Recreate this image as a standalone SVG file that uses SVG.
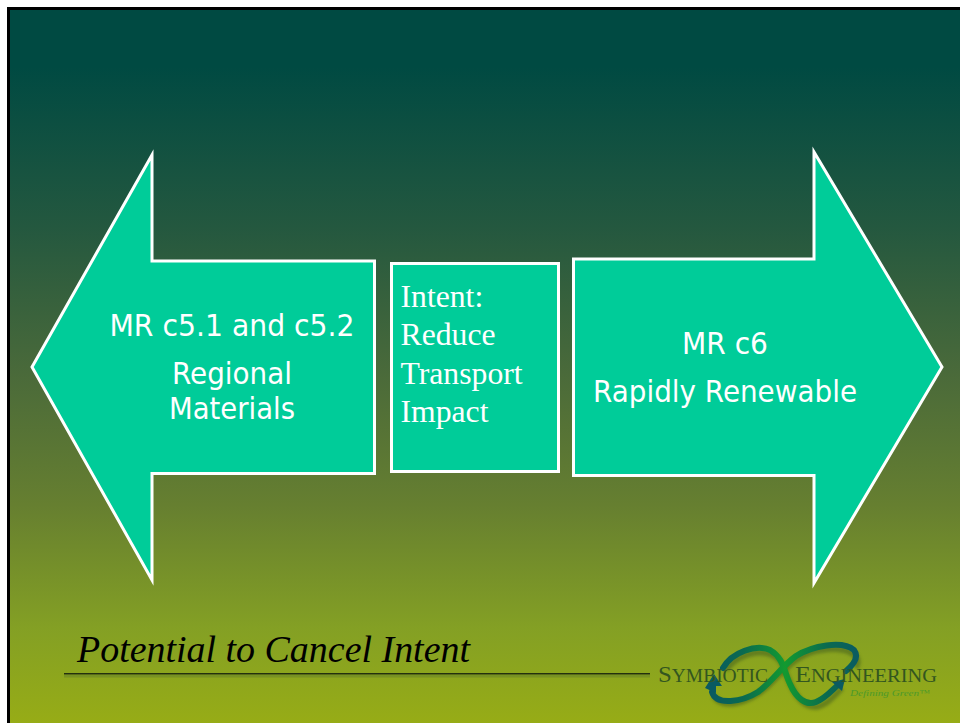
<svg xmlns="http://www.w3.org/2000/svg" width="960" height="723" viewBox="0 0 960 723">
<defs>
<linearGradient id="bg" x1="0" y1="0" x2="0" y2="1">
<stop offset="0" stop-color="#004a42"/>
<stop offset="0.08" stop-color="#004a42"/>
<stop offset="0.3" stop-color="#24583f"/>
<stop offset="0.5" stop-color="#4a6a3a"/>
<stop offset="0.68" stop-color="#667f30"/>
<stop offset="0.85" stop-color="#84a024"/>
<stop offset="1" stop-color="#9aae14"/>
</linearGradient>
<linearGradient id="sw" gradientUnits="userSpaceOnUse" x1="710" y1="0" x2="860" y2="0">
<stop offset="0" stop-color="#0a5a62"/>
<stop offset="0.22" stop-color="#0a6a50"/>
<stop offset="0.5" stop-color="#129a30"/>
<stop offset="0.78" stop-color="#0a6a50"/>
<stop offset="1" stop-color="#0a5a62"/>
</linearGradient>
<filter id="soft" x="-10%" y="-20%" width="120%" height="140%"><feGaussianBlur stdDeviation="1.8"/></filter>
</defs>
<style>
.shape{fill:#00cc99;stroke:#fff;stroke-width:3}
.sans{font-family:"DejaVu Sans","Liberation Sans",sans-serif;font-size:29.500px;fill:#fff;text-anchor:middle}
.serif{font-family:"Liberation Serif",serif;font-size:31.700px;fill:#fff}
.logo{font-family:"Liberation Serif",serif;fill:#33561f;font-size:23px}
.band{fill:none;stroke:url(#sw);stroke-width:6;stroke-linecap:round}
.shade{fill:none;stroke:#44601a;stroke-width:6;opacity:.55;filter:url(#soft)}
</style>
<rect width="960" height="723" fill="#fff"/>
<rect x="8.500" y="8.500" width="960" height="730" fill="url(#bg)" stroke="#000" stroke-width="3"/>
<g id="left-arrow">
<polygon class="shape" points="32,367 152,155 152,261 374.500,261 374.500,473.500 152,473.500 152,580"/>
<text class="sans" x="232" y="336" textLength="245" lengthAdjust="spacingAndGlyphs">MR c5.1 and c5.2</text>
<text class="sans" x="232" y="384" textLength="120" lengthAdjust="spacingAndGlyphs">Regional</text>
<text class="sans" x="232" y="419" textLength="126" lengthAdjust="spacingAndGlyphs">Materials</text>
</g>
<g id="center-box">
<rect class="shape" x="391.500" y="263.500" width="167" height="208"/>
<text class="serif" x="400.500" y="307">Intent:</text>
<text class="serif" x="400.500" y="345">Reduce</text>
<text class="serif" x="400.500" y="384">Transport</text>
<text class="serif" x="400.500" y="422">Impact</text>
</g>
<g id="right-arrow">
<polygon class="shape" points="942,367 814,152 814,259 573.500,259 573.500,475.500 814,475.500 814,583"/>
<text class="sans" x="725" y="354" textLength="86" lengthAdjust="spacingAndGlyphs">MR c6</text>
<text class="sans" x="725" y="402" textLength="264" lengthAdjust="spacingAndGlyphs">Rapidly Renewable</text>
</g>
<g id="title">
<text x="77" y="662" font-family="'Liberation Serif',serif" font-style="italic" font-size="38px" fill="#000" textLength="393" lengthAdjust="spacingAndGlyphs">Potential to Cancel Intent</text>
<rect x="64" y="675" width="586" height="2.500" fill="#6f8a26" opacity="0.7"/>
<rect x="64" y="673" width="586" height="1.500" fill="#22300f"/>
</g>
<g id="logo">
<path class="shade" d="M714 696C722 710 748 704 768 686C786 668 800 652 822 650C842 647 864 652 856 668"/>
<path class="shade" d="M726 670C740 650 772 646 782 664C790 684 798 708 816 707C826 706 834 696 842 688"/>
<path class="band" d="M712 692C716 706 742 702 758 692C772 682 782 666 796 656C812 646 842 640 854 650C860 658 852 666 846 671"/>
<path class="band" d="M723 668C732 652 756 644 770 650C784 658 784 672 790 684C796 698 806 706 816 702C826 698 832 690 838 685"/>
<path d="M705 688L714 674L722 686L716 686L716 693Z" fill="#0a5a62"/>
<path d="M832 682L845 679L842 691Z" fill="#0a5a62"/>
<text class="logo" x="658" y="682" textLength="110" lengthAdjust="spacingAndGlyphs">S<tspan font-size="18px">YMBIOTIC</tspan></text>
<text class="logo" x="795" y="682" textLength="142" lengthAdjust="spacingAndGlyphs">E<tspan font-size="18px">NGINEERING</tspan></text>
<text x="850" y="696" font-family="'Liberation Serif',serif" font-style="italic" font-size="9px" fill="#4c9a2a" textLength="80" lengthAdjust="spacingAndGlyphs">Defining Green™</text>
</g>
</svg>
